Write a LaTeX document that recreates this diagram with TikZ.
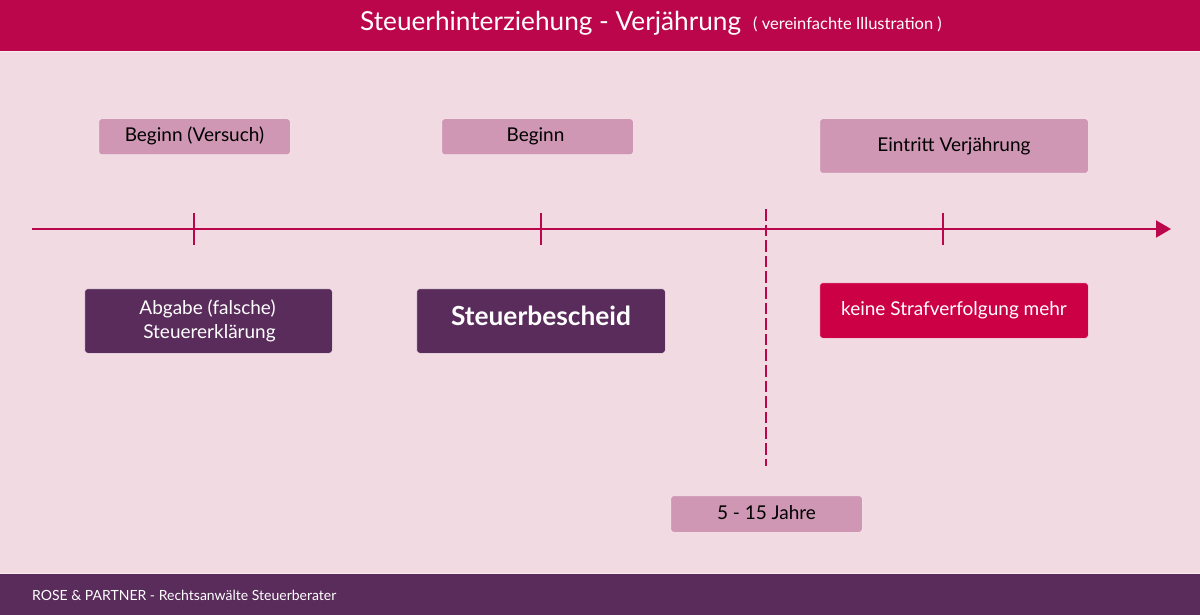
\documentclass[tikz,border=0pt]{standalone}
\usepackage{fontspec}
\setmainfont{Lato}
\usetikzlibrary{arrows.meta}
\definecolor{headc}{HTML}{BC064B}
\definecolor{bgc}{HTML}{F1DAE2}
\definecolor{softc}{HTML}{CF97B3}
\definecolor{darkc}{HTML}{592C5B}
\definecolor{redc}{HTML}{CC0044}
\definecolor{haloc}{HTML}{F8EAEF}
\newcommand{\tx}[3]{\raisebox{#2}{\hspace*{#1}#3}}
\tikzset{
  x=1pt,y=-1pt,
  boxbase/.style={rectangle,rounded corners=3pt,draw=haloc,line width=.6pt,inner sep=0pt,font=\fontsize{19}{24}\selectfont,align=center},
  softbox/.style={boxbase,fill=softc,text=black},
  darkbox/.style={boxbase,fill=darkc,text=white},
  redbox/.style={boxbase,fill=redc,text=white},
  axisline/.style={draw=headc,line width=2pt},
}
\newcommand{\bx}[7]{\node[#1,minimum width=#4 pt-#3 pt+.6pt,minimum height=#6 pt-#5 pt+.6pt] (#2) at ({(#3+#4)/2},{(#5+#6)/2}) {#7};}
\begin{document}
\begin{tikzpicture}
\useasboundingbox (0,0) rectangle (1200,615);
\fill[bgc] (0,0) rectangle (1200,615);
\fill[headc] (0,0) rectangle (1200,51);
\draw[haloc,line width=.7pt] (0,51.5) -- (1200,51.5);
\fill[darkc] (0,574) rectangle (1200,615);
\draw[haloc,line width=.7pt] (0,573.3) -- (1200,573.3);
\node[anchor=base west,inner sep=0pt,text=white,font=\fontsize{26.2}{30}\selectfont] (title) at (360,30.8) {Steuerhinterziehung - Verjährung};
\node[anchor=base west,inner sep=0pt,text=white,font=\fontsize{16.5}{20}\selectfont] (subtitle) at (753,29.8) {( vereinfachte Illustration )};
\node[anchor=base west,inner sep=0pt,text=white,font=\fontsize{14}{16}\selectfont] (foot) at (32,600.3) {ROSE \& PARTNER - Rechtsanwälte Steuerberater};

\coordinate (axisL) at (32,229);
\coordinate (axisR) at (1171,229);
\coordinate (t1a) at (194,213); \coordinate (t1b) at (194,245);
\coordinate (t2a) at (541,213); \coordinate (t2b) at (541,245);
\coordinate (t3a) at (943,213); \coordinate (t3b) at (943,245);
\coordinate (da) at (766,209); \coordinate (db) at (766,466);
\draw[axisline,-{Triangle[length=15pt,width=17pt]}] (axisL) -- (axisR);
\draw[axisline] (t1a) -- (t1b);
\draw[axisline] (t2a) -- (t2b);
\draw[axisline] (t3a) -- (t3b);
\draw[axisline,line width=2.3pt,dash pattern=on 11.5pt off 4.1pt] (da) -- (db);

\bx{softbox}{b1}{99}{290}{119}{154.5}{\tx{0pt}{4.5pt}{Beginn (Versuch)}}
\bx{softbox}{b2}{442}{633}{119}{154.5}{\tx{-4pt}{3.5pt}{Beginn}}
\bx{softbox}{b3}{820}{1088}{119}{173}{\tx{0pt}{3pt}{Eintritt Verjährung}}
\bx{softbox}{b4}{671}{862}{496}{532}{\tx{0pt}{3.5pt}{5 - 15 Jahre}}
\bx{darkbox}{d1}{85}{332}{289}{353}{\raisebox{2pt}{\hspace*{-2pt}Abgabe (falsche)}\\\raisebox{2pt}{\hspace*{2pt}Steuererklärung}}
\bx{darkbox}{d2}{417}{665}{289}{353}{\fontsize{26.3}{30}\selectfont\bfseries\tx{0pt}{10pt}{Steuerbescheid}}
\bx{redbox}{r1}{820}{1088}{283}{338}{\tx{0pt}{2.5pt}{keine Strafverfolgung mehr}}
\end{tikzpicture}
\end{document}
